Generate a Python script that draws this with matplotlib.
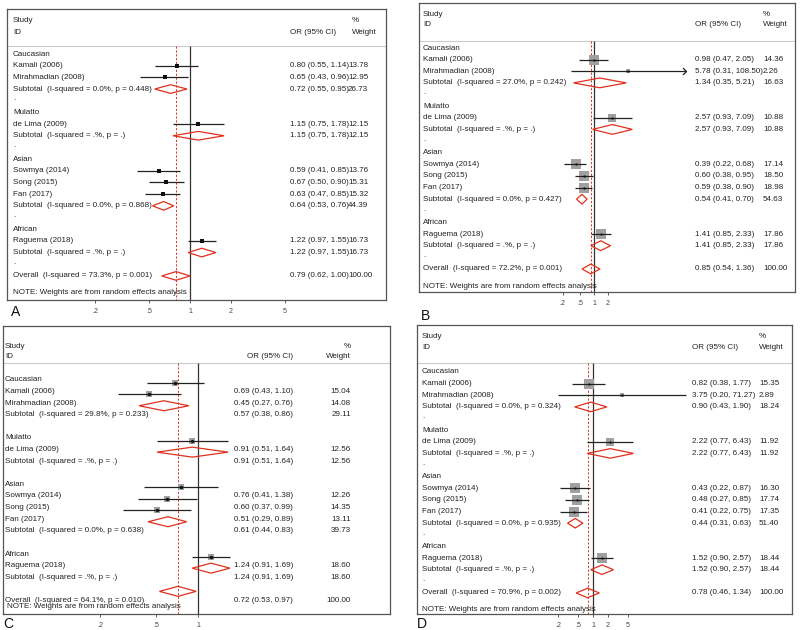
import matplotlib
matplotlib.use("Agg")
import matplotlib.pyplot as plt
from matplotlib.transforms import blended_transform_factory
from matplotlib.ticker import FixedLocator, FixedFormatter, NullLocator

plt.rcParams['font.family'] = ['Liberation Sans', 'DejaVu Sans']

# ---------------- data ----------------
studies = ["Kamali (2006)", "Mirahmadian (2008)", "de Lima (2009)",
           "Sowmya (2014)", "Song (2015)", "Fan (2017)", "Raguema (2018)"]
groups = ["Caucasian", "Mulatto", "Asian", "African"]
study_group = [0, 0, 1, 2, 2, 2, 3]

# Panel A
or_a = [0.80, 0.65, 1.15, 0.59, 0.67, 0.63, 1.22]
lo_a = [0.55, 0.43, 0.75, 0.41, 0.50, 0.47, 0.97]
hi_a = [1.14, 0.96, 1.78, 0.85, 0.90, 0.85, 1.55]
w_a = [13.78, 12.95, 12.15, 13.76, 15.31, 15.32, 16.73]
sub_or_a = [0.72, 1.15, 0.64, 1.22]
sub_lo_a = [0.55, 0.75, 0.53, 0.97]
sub_hi_a = [0.95, 1.78, 0.76, 1.55]
sub_w_a = [26.73, 12.15, 44.39, 16.73]
het_a = ["0.0%, p = 0.448", ".%, p = .", "0.0%, p = 0.868", ".%, p = ."]
overall_a = [0.79, 0.62, 1.00, 100.00]
overall_het_a = "73.3%, p = 0.001"
ticks_a = [0.2, 0.5, 1, 2, 5]
ticklabels_a = [".2", ".5", "1", "2", "5"]

# Panel B
or_b = [0.98, 5.78, 2.57, 0.39, 0.60, 0.59, 1.41]
lo_b = [0.47, 0.31, 0.93, 0.22, 0.38, 0.38, 0.85]
hi_b = [2.05, 108.50, 7.09, 0.68, 0.95, 0.90, 2.33]
w_b = [14.36, 2.26, 10.88, 17.14, 18.50, 18.98, 17.86]
sub_or_b = [1.34, 2.57, 0.54, 1.41]
sub_lo_b = [0.35, 0.93, 0.41, 0.85]
sub_hi_b = [5.21, 7.09, 0.70, 2.33]
sub_w_b = [16.63, 10.88, 54.63, 17.86]
het_b = ["27.0%, p = 0.242", ".%, p = .", "0.0%, p = 0.427", ".%, p = ."]
overall_b = [0.85, 0.54, 1.36, 100.00]
overall_het_b = "72.2%, p = 0.001"
ticks_b = [0.2, 0.5, 1, 2]
ticklabels_b = [".2", ".5", "1", "2"]

# Panel C
or_c = [0.69, 0.45, 0.91, 0.76, 0.60, 0.51, 1.24]
lo_c = [0.43, 0.27, 0.51, 0.41, 0.37, 0.29, 0.91]
hi_c = [1.10, 0.76, 1.64, 1.38, 0.99, 0.89, 1.69]
w_c = [15.04, 14.08, 12.56, 12.26, 14.35, 13.11, 18.60]
sub_or_c = [0.57, 0.91, 0.61, 1.24]
sub_lo_c = [0.38, 0.51, 0.44, 0.91]
sub_hi_c = [0.86, 1.64, 0.83, 1.69]
sub_w_c = [29.11, 12.56, 39.73, 18.60]
het_c = ["29.8%, p = 0.233", ".%, p = .", "0.0%, p = 0.638", ".%, p = ."]
overall_c = [0.72, 0.53, 0.97, 100.00]
overall_het_c = "64.1%, p = 0.010"
ticks_c = [0.2, 0.5, 1]
ticklabels_c = [".2", ".5", "1"]

# Panel D
or_d = [0.82, 3.75, 2.22, 0.43, 0.48, 0.41, 1.52]
lo_d = [0.38, 0.20, 0.77, 0.22, 0.27, 0.22, 0.90]
hi_d = [1.77, 71.27, 6.43, 0.87, 0.85, 0.75, 2.57]
w_d = [15.35, 2.89, 11.92, 16.30, 17.74, 17.35, 18.44]
sub_or_d = [0.90, 2.22, 0.44, 1.52]
sub_lo_d = [0.43, 0.77, 0.31, 0.90]
sub_hi_d = [1.90, 6.43, 0.63, 2.57]
sub_w_d = [18.24, 11.92, 51.40, 18.44]
het_d = ["0.0%, p = 0.324", ".%, p = .", "0.0%, p = 0.935", ".%, p = ."]
overall_d = [0.78, 0.46, 1.34, 100.00]
overall_het_d = "70.9%, p = 0.002"
ticks_d = [0.2, 0.5, 1, 2, 5]
ticklabels_d = [".2", ".5", "1", "2", "5"]

# ---------------- layout / style ----------------
W, H = 800, 630
FS = 5.8
TXT = "#222222"
RED = "#e0301e"
GREY_BOX = "#a0a0a0"
FRAME = "#555555"
CHEVRON = [(-1, 1), (0, 0), (-1, -1)]

fig = plt.figure(figsize=(W / 100, H / 100), dpi=100)


def build_rows():
    """row index of every text line (group header, study, subtotal, spacer, overall)"""
    rows = []
    r = 0
    for g in range(len(groups)):
        rows.append(("group", g, r)); r += 1
        for i, sg in enumerate(study_group):
            if sg == g:
                rows.append(("study", i, r)); r += 1
        rows.append(("sub", g, r)); r += 1
        rows.append(("dot", g, r)); r += 1
    rows.append(("overall", 0, r))
    return rows


ROWS = build_rows()


def draw_panel(lay, d):
    L, T, R, B = lay["box"]
    x1, ppd = lay["x1"], lay["ppd"]
    row0, sp = lay["row0"], lay["sp"]
    ax = fig.add_axes([L / W, 1 - B / H, (R - L) / W, (B - T) / H])
    ax.set_xscale("log")
    ax.set_xlim(10 ** ((L - x1) / ppd), 10 ** ((R - x1) / ppd))
    ymin, ymax = (T - row0) / sp, (B - row0) / sp
    ax.set_ylim(ymax, ymin)
    ax.set_yticks([])
    for s in ax.spines.values():
        s.set_color(FRAME)
        s.set_linewidth(0.9)
    ax.xaxis.set_major_locator(FixedLocator(d["ticks"]))
    ax.xaxis.set_major_formatter(FixedFormatter(d["ticklabels"]))
    ax.xaxis.set_minor_locator(NullLocator())
    ax.tick_params(axis="x", direction="out", length=2.5, width=0.6, pad=3.2,
                   labelsize=5, colors="#444444")

    tr = blended_transform_factory(ax.transAxes, ax.transData)
    fx = lambda px: (px - L) / (R - L)

    def txt(px, row, s, ha="left"):
        ax.text(fx(px), row, s, transform=tr, ha=ha, va="center",
                fontsize=FS, color=TXT, clip_on=False)

    # header
    sep = (lay["sep"] - row0) / sp
    txt(lay["xl"], (lay["study_y"] - row0) / sp, "Study")
    idrow = (lay["id_y"] - row0) / sp
    txt(lay["xl"], idrow, "ID")
    txt(lay["xor_h"], idrow, "OR (95% CI)", ha=lay["ha_or"])
    txt(lay["xw_h"], (lay["study_y"] - row0) / sp, "%", ha=lay["ha_w"])
    txt(lay["xw_h"], idrow, "Weight", ha=lay["ha_w"])
    ax.plot([0, 1], [sep, sep], transform=tr, color="#cccccc", lw=0.8, clip_on=False)

    # reference lines
    ax.vlines(1, sep, ymax, color="#333333", lw=0.9)
    ax.vlines(d["overall"][0], sep, ymax, color=RED, lw=0.7,
              linestyles=(0, (2.2, 1.8)))

    shift = lay["shift"]
    hh = lay["dh"]

    def fmt(o, l, h):
        return f"{o:.2f} ({l:.2f}, {h:.2f})"

    for kind, k, r in ROWS:
        if kind == "group":
            txt(lay["xl"], r, groups[k])
        elif kind == "dot":
            if lay["dots"]:
                txt(lay["xl"], r - 0.15, ".")
        elif kind == "study":
            o, l, h, w = d["or"][k], d["lo"][k], d["hi"][k], d["w"][k]
            txt(lay["xl"], r, studies[k])
            txt(lay["xor"], r, fmt(o, l, h), ha=lay["ha_or"])
            txt(lay["xw"], r, f"{w:.2f}", ha=lay["ha_wv"])
            gr = r + shift
            if lay["boxf"] > 0:
                ax.plot([o], [gr], marker="s", ms=lay["boxf"] * w ** 0.5 / 1.389,
                        color=GREY_BOX, mew=0, zorder=2)
            ax.plot([l, h], [gr, gr], color="#222222", lw=0.9, zorder=3,
                    solid_capstyle="butt")
            if h > lay["arrow_at"]:
                ax.plot([h], [gr], marker=CHEVRON, ms=5, mfc="none", mec="#222222",
                        mew=0.9, zorder=3)
            ax.plot([o], [gr], marker=lay["pm"], ms=lay["pms"], color="#111111",
                    mew=0, zorder=4)
        elif kind in ("sub", "overall"):
            if kind == "sub":
                o, l, h, w = d["sub_or"][k], d["sub_lo"][k], d["sub_hi"][k], d["sub_w"][k]
                label = f"Subtotal  (I-squared = {d['het'][k]})"
            else:
                o, l, h, w = d["overall"]
                label = f"Overall  (I-squared = {d['overall_het']})"
            txt(lay["xl"], r, label)
            txt(lay["xor"], r, fmt(o, l, h), ha=lay["ha_or"])
            txt(lay["xw"], r, f"{w:.2f}", ha=lay["ha_wv"])
            gr = r + shift
            ax.fill([l, o, h, o, l], [gr, gr - hh, gr, gr + hh, gr], fill=False,
                    edgecolor=RED, lw=0.9, zorder=5)
    txt(lay["xnote"], lay["note_row"], "NOTE: Weights are from random effects analysis")
    return ax


layouts = {
    "A": dict(box=(7, 9, 386, 300), x1=190, ppd=136, row0=54, sp=11.68,
              sep=46, study_y=21, id_y=32, xl=13, xor=290, xor_h=290, ha_or="left",
              xw=348, ha_wv="left", xw_h=352, ha_w="left", shift=0.0, dh=0.37,
              boxf=0, pm="s", pms=2.4, arrow_at=1e9, dots=True, xnote=13, note_row=20.46),
    "B": dict(box=(419, 3, 795, 292), x1=594, ppd=45, row0=48, sp=11.63,
              sep=41, study_y=14, id_y=25, xl=423, xor=695, xor_h=695, ha_or="left",
              xw=763, ha_wv="left", xw_h=763, ha_w="left", shift=0.0, dh=0.42,
              boxf=2.4, pm="o", pms=1.6, arrow_at=100, dots=True, xnote=423, note_row=20.55),
    "C": dict(box=(3, 326, 390, 614), x1=198, ppd=140, row0=380, sp=11.6,
              sep=363, study_y=347, id_y=357, xl=5, xor=293, xor_h=293, ha_or="right",
              xw=351, ha_wv="right", xw_h=351, ha_w="right", shift=-0.78, dh=0.43,
              boxf=1.6, pm="o", pms=2.4, arrow_at=1e9, dots=False, xnote=7, note_row=19.55),
    "D": dict(box=(417, 325, 792, 614), x1=593, ppd=50, row0=372, sp=11.63,
              sep=363, study_y=337, id_y=348, xl=422, xor=692, xor_h=692, ha_or="left",
              xw=759, ha_wv="left", xw_h=759, ha_w="left", shift=0.0, dh=0.41,
              boxf=2.5, pm="o", pms=1.6, arrow_at=1e9, dots=True, xnote=422, note_row=20.46),
}

panel_data = {
    "A": {"or": or_a, "lo": lo_a, "hi": hi_a, "w": w_a,
          "sub_or": sub_or_a, "sub_lo": sub_lo_a, "sub_hi": sub_hi_a, "sub_w": sub_w_a,
          "het": het_a, "overall": overall_a, "overall_het": overall_het_a,
          "ticks": ticks_a, "ticklabels": ticklabels_a},
    "B": {"or": or_b, "lo": lo_b, "hi": hi_b, "w": w_b,
          "sub_or": sub_or_b, "sub_lo": sub_lo_b, "sub_hi": sub_hi_b, "sub_w": sub_w_b,
          "het": het_b, "overall": overall_b, "overall_het": overall_het_b,
          "ticks": ticks_b, "ticklabels": ticklabels_b},
    "C": {"or": or_c, "lo": lo_c, "hi": hi_c, "w": w_c,
          "sub_or": sub_or_c, "sub_lo": sub_lo_c, "sub_hi": sub_hi_c, "sub_w": sub_w_c,
          "het": het_c, "overall": overall_c, "overall_het": overall_het_c,
          "ticks": ticks_c, "ticklabels": ticklabels_c},
    "D": {"or": or_d, "lo": lo_d, "hi": hi_d, "w": w_d,
          "sub_or": sub_or_d, "sub_lo": sub_lo_d, "sub_hi": sub_hi_d, "sub_w": sub_w_d,
          "het": het_d, "overall": overall_d, "overall_het": overall_het_d,
          "ticks": ticks_d, "ticklabels": ticklabels_d},
}

for key in ["A", "B", "C", "D"]:
    draw_panel(layouts[key], panel_data[key])

letter_pos = {"A": (16, 312), "B": (426, 316), "C": (8, 624), "D": (422, 624)}
for key, (px, py) in letter_pos.items():
    fig.text(px / W, 1 - py / H, key, fontsize=10, color="#111111",
             ha="center", va="center")

fig.savefig("out.png", dpi=100)
